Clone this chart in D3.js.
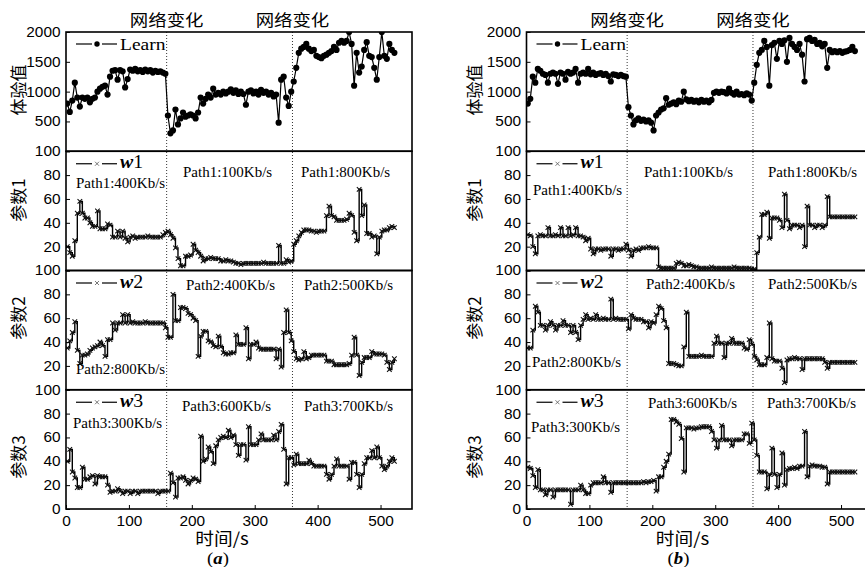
<!DOCTYPE html>
<html>
<head>
<meta charset="utf-8">
<script src="https://cdn.jsdelivr.net/npm/d3@7"></script>
<style>
  body { margin: 0; background: #fff; }
  svg { display: block; }
</style>
</head>
<body>
<div id="chart"></div>
<script>
// ---- data (one sample every 4 s starting at t = 2 s) ----
var tStart = 2, tStep = 4;

var learnA = [800,660,850,1150,900,750,900,880,900,820,
  880,900,1000,1050,1080,1100,950,1250,1350,1360,
  1200,1360,1340,1070,1210,1370,1350,1380,1340,1360,
  1330,1370,1340,1360,1320,1350,1330,1340,1320,1300,
  600,300,350,700,450,550,650,580,600,620,
  600,550,650,900,800,880,950,900,1050,950,
  980,950,1000,970,1000,1040,980,1020,960,1000,
  960,780,1000,1020,970,1000,950,1030,980,1000,
  950,980,920,950,480,1200,1250,900,760,1000,
  1170,1400,1650,1720,1750,1800,1720,1680,1700,1600,
  1580,1560,1600,1620,1650,1680,1750,1700,1820,1850,
  1820,1850,2000,1800,1100,1650,1320,1420,1700,1830,
  1600,1580,1400,1200,1580,2000,1600,1550,1800,1700,
  1650];

var w1A = [20,15,12,25,48,58,48,44,44,40,
  37,37,50,35,35,35,39,38,28,28,
  33,28,33,27,24,28,29,27,28,28,
  28,28,29,28,28,28,28,28,30,32,
  33,30,27,19,10,4,4,12,12,13,
  22,17,15,12,8,10,10,11,10,10,
  10,8,8,9,8,8,7,6,6,5,
  6,6,6,6,6,6,6,6,7,6,
  6,6,6,6,21,6,6,9,7,8,
  22,25,29,32,34,34,34,33,33,32,
  33,33,33,46,54,46,45,42,42,42,
  42,43,48,46,32,25,68,46,55,31,
  31,28,29,14,28,33,34,34,36,37,
  36];

var w2A = [35,41,48,57,33,22,29,29,30,33,
  35,36,37,40,37,28,42,42,56,50,
  56,56,63,56,63,56,57,56,56,56,
  56,57,56,56,56,56,56,56,56,52,
  44,44,80,58,58,69,69,68,64,63,
  60,58,28,45,49,49,41,40,37,36,
  45,36,31,30,30,31,31,46,38,38,
  38,52,26,38,38,40,35,34,34,34,
  34,34,34,26,34,19,48,67,48,41,
  32,26,25,26,32,26,27,29,29,29,
  29,29,29,24,24,24,21,21,21,21,
  21,21,22,29,44,29,12,23,27,27,
  27,32,30,30,30,30,29,23,17,23,
  26];

var w3A = [40,50,31,26,18,18,35,25,25,27,
  28,21,28,27,27,27,20,14,15,15,
  17,15,13,15,15,13,15,15,13,15,
  15,15,15,15,15,15,13,15,15,15,
  15,30,22,10,26,26,27,24,21,24,
  26,25,23,61,40,42,52,48,38,53,
  58,60,61,60,66,60,62,54,45,54,
  54,41,69,54,54,54,58,63,58,58,
  58,58,62,58,65,71,50,21,43,43,
  37,46,38,38,38,38,41,38,36,36,
  36,36,36,29,25,29,36,42,36,36,
  36,36,25,39,39,29,18,29,38,43,
  43,49,43,52,43,36,33,36,40,43,
  40];

var learnB = [800,880,1250,1150,1380,1350,1300,1280,1150,1300,
  1320,1300,1130,1320,1300,1200,1330,1300,1320,1380,
  1150,1300,1320,1300,1380,1290,1320,1280,1300,1310,
  1280,1300,1260,1170,1290,1280,1260,1280,1260,1250,
  740,600,450,520,550,510,530,500,520,480,
  350,600,650,700,720,890,780,800,820,790,
  850,830,1000,870,840,860,830,850,820,860,
  830,850,820,860,980,1000,980,1000,990,970,
  1050,980,950,1000,950,960,940,970,950,850,
  1150,1450,1650,1700,1850,1750,1100,1780,1820,1550,
  1850,1800,1860,1500,1900,1800,1750,1700,1800,1620,
  1170,1880,1900,1850,1870,1800,1820,1760,1800,1400,
  1700,1660,1680,1660,1680,1650,1670,1680,1700,1750,
  1680];

var w1B = [30,29,20,14,29,30,29,29,36,29,
  29,30,29,36,29,29,36,29,30,36,
  29,29,28,25,27,18,14,18,18,17,
  18,18,18,12,18,18,17,18,18,22,
  17,12,17,18,17,19,19,19,20,19,
  19,19,3,2,2,2,2,2,2,6,
  7,6,4,4,5,4,3,3,2,2,
  2,2,2,3,2,2,2,2,2,2,
  2,2,3,2,2,2,2,2,2,1,
  1,15,28,47,47,49,27,44,44,44,
  42,36,64,42,35,38,38,38,36,38,
  20,54,38,38,36,38,38,36,38,62,
  45,45,45,45,45,45,45,45,45,45,
  45];

var w2B = [35,35,50,70,65,54,54,50,54,57,
  54,50,54,54,58,54,54,48,54,48,
  42,54,59,63,59,60,59,63,59,59,
  60,59,59,76,59,60,59,59,59,59,
  51,63,60,59,59,59,57,57,52,57,
  56,63,70,68,58,52,22,22,22,21,
  20,20,36,65,28,28,28,28,28,29,
  28,28,28,28,39,45,39,39,27,39,
  39,43,39,39,39,39,35,34,42,38,
  28,25,21,21,21,27,56,26,24,24,
  24,18,6,25,26,26,27,26,26,17,
  26,26,26,26,26,26,26,26,23,18,
  23,23,23,23,23,23,23,23,23,23,
  23];

var w3B = [35,34,28,18,33,16,16,12,16,16,
  10,16,16,16,16,16,16,4,16,16,
  16,20,16,13,13,20,22,22,22,22,
  27,22,22,14,22,22,22,22,22,22,
  22,22,22,22,22,22,23,22,23,23,
  24,15,27,27,35,40,46,75,75,73,
  71,59,31,68,68,68,67,68,68,69,
  69,69,69,65,58,51,58,70,58,58,
  58,53,58,58,58,58,63,63,55,72,
  58,45,31,31,31,17,29,51,29,18,
  29,47,20,33,34,34,35,34,36,36,
  65,27,36,37,36,36,36,35,35,21,
  31,31,31,31,31,31,31,31,31,31,
  31];

var eventTimes = [160, 360];
var eventLabel = "网络变化";
var yTitles = ["体验值", "参数1", "参数2", "参数3"];
var learnTicks = [0, 500, 1000, 1500, 2000];
var paramTicks = [0, 20, 40, 60, 80, 100];
var timeTicks = [0, 100, 200, 300, 400, 500];
var xTitle = "时间/s";
var pathLabels = [
  ["Path1:400Kb/s", "Path1:100Kb/s", "Path1:800Kb/s"],
  ["Path2:800Kb/s", "Path2:400Kb/s", "Path2:500Kb/s"],
  ["Path3:300Kb/s", "Path3:600Kb/s", "Path3:700Kb/s"]
];

// ---- layout ----
var width = 865, height = 567;
var plotTop = 32, rowH = 119.25, plotW = 346;
var titleYs = [90, 200, 318, 457];
var SERIF = "'Liberation Serif','Times New Roman',serif";
var SANS = "'Liberation Sans',Arial,sans-serif";
var CJK = "'Noto Sans CJK SC','Noto Sans CJK JP',sans-serif";

var panels = [
  { left: 66, titleX: 17, tag: "a", series: [learnA, w1A, w2A, w3A],
    pathPos: [[[10, 37], [117, 25.5], [235, 25.5]],
              [[10, 103.5], [120, 19.5], [238, 19.5]],
              [[7, 38], [116, 21], [238, 21]]] },
  { left: 526.5, titleX: 473, tag: "b", series: [learnB, w1B, w2B, w3B],
    pathPos: [[[6.5, 44], [117.5, 26], [241.5, 26]],
              [[5.5, 96.5], [119.5, 18.5], [241.5, 18.5]],
              [[4.5, 42], [121.5, 18], [240.5, 18]]] }
];

var svg = d3.select("#chart").append("svg")
  .attr("width", width).attr("height", height)
  .attr("viewBox", "0 0 " + width + " " + height);

function label(g, x, y, str, font, size, sx, anchor) {
  return g.append("text")
    .attr("transform", "translate(" + x + "," + y + ") scale(" + sx + ",1)")
    .attr("text-anchor", anchor || "start")
    .style("font-family", font)
    .style("font-size", size + "px")
    .attr("fill", "#000")
    .text(str);
}

function crossPath(s) {
  return "M" + (-s) + "," + (-s) + "L" + s + "," + s + "M" + (-s) + "," + s + "L" + s + "," + (-s);
}

panels.forEach(function(p, pi) {
  var g = svg.append("g");
  var x = d3.scaleLinear().domain([0, 550]).range([p.left, p.left + plotW]);

  for (var r = 0; r < 4; r++) {
    var rowTop = plotTop + r * rowH;
    var y = d3.scaleLinear()
      .domain(r == 0 ? [0, 2000] : [0, 100])
      .range([rowTop + rowH, rowTop]);
    var vals = p.series[r];
    var pts = vals.map(function(v, i) { return [tStart + i * tStep, v]; });

    var clipId = "clip" + pi + "_" + r;
    g.append("clipPath").attr("id", clipId).append("rect")
      .attr("x", p.left).attr("y", rowTop).attr("width", plotW).attr("height", rowH);

    var plot = g.append("g").attr("clip-path", "url(#" + clipId + ")");
    var line = d3.line()
      .x(function(d) { return x(d[0]); })
      .y(function(d) { return y(d[1]); })
      .curve(r == 0 ? d3.curveLinear : d3.curveStepAfter);

    plot.append("path").datum(pts)
      .attr("d", line)
      .attr("fill", "none")
      .attr("stroke", "#000")
      .attr("stroke-width", r == 0 ? 1.2 : 1.4);

    if (r == 0) {
      plot.selectAll("circle").data(pts).enter().append("circle")
        .attr("cx", function(d) { return x(d[0]); })
        .attr("cy", function(d) { return y(d[1]); })
        .attr("r", 3.1)
        .attr("fill", "#000");
    } else {
      plot.selectAll("path.mk").data(pts).enter().append("path")
        .attr("class", "mk")
        .attr("transform", function(d) { return "translate(" + x(d[0]) + "," + y(d[1]) + ")"; })
        .attr("d", crossPath(2.3))
        .attr("stroke", "#111")
        .attr("stroke-width", 1.1);
    }

    // frame
    g.append("rect")
      .attr("x", p.left).attr("y", rowTop)
      .attr("width", plotW).attr("height", rowH)
      .attr("fill", "none").attr("stroke", "#000").attr("stroke-width", 1.6);

    // left axis; the 0 of the upper rows sits under the 100 of the row below
    var isBottom = r == 3;
    var ay = g.append("g")
      .attr("transform", "translate(" + p.left + ",0)")
      .call(d3.axisLeft(y)
        .tickValues(r == 0 ? learnTicks : paramTicks)
        .tickFormat(function(d) { return (d == 0 && !isBottom) ? "" : String(d); })
        .tickSizeInner(-4).tickSizeOuter(0).tickPadding(5));
    ay.select(".domain").remove();
    ay.selectAll("text")
      .attr("transform", "scale(1.1,1)")
      .style("font-family", SANS).style("font-size", "14px").attr("fill", "#000");

    // y title
    g.append("text")
      .attr("transform", "translate(" + p.titleX + "," + titleYs[r] + ") rotate(-90)")
      .attr("text-anchor", "middle")
      .attr("dominant-baseline", "central")
      .style("font-family", CJK)
      .style("font-size", "17px")
      .text(yTitles[r]);

    // legend
    var ly = rowTop + (r == 0 ? 12 : 12.5);
    [[10, 26], [36, 51]].forEach(function(s) {
      g.append("line")
        .attr("x1", p.left + s[0]).attr("x2", p.left + s[1])
        .attr("y1", ly).attr("y2", ly)
        .attr("stroke", "#000").attr("stroke-width", 1.2);
    });
    if (r == 0) {
      g.append("circle").attr("cx", p.left + 31).attr("cy", ly).attr("r", 2.7).attr("fill", "#000");
      label(g, p.left + 54, rowTop + 18, "Learn", SERIF, 17, 1.15);
    } else {
      g.append("path")
        .attr("transform", "translate(" + (p.left + 31) + "," + ly + ")")
        .attr("d", crossPath(2)).attr("stroke", "#555").attr("stroke-width", 0.8);
      var lt = label(g, p.left + 54, rowTop + 17, "", SERIF, 18, 1.1);
      lt.append("tspan").style("font-weight", "bold").style("font-style", "italic").text("w");
      lt.append("tspan").text(String(r));

      pathLabels[r - 1].forEach(function(s, k) {
        var pos = p.pathPos[r - 1][k];
        label(g, p.left + pos[0], rowTop + pos[1], s, SERIF, 15, 1.0);
      });
    }
  }

  // x axis
  var ax = g.append("g")
    .attr("transform", "translate(0," + (plotTop + 4 * rowH) + ")")
    .call(d3.axisBottom(x).tickValues(timeTicks)
      .tickSizeInner(-4).tickSizeOuter(0).tickPadding(7));
  ax.select(".domain").remove();
  ax.selectAll("text")
    .attr("transform", "scale(1.1,1)")
    .style("font-family", SANS).style("font-size", "14px").attr("fill", "#000");

  // network change markers
  eventTimes.forEach(function(t) {
    g.append("line")
      .attr("x1", x(t)).attr("x2", x(t))
      .attr("y1", plotTop).attr("y2", plotTop + 4 * rowH)
      .attr("stroke", "#000").attr("stroke-width", 0.8)
      .attr("stroke-dasharray", "1,2");
    label(g, x(t), 26, eventLabel, CJK, 16, 1.15, "middle");
  });

  label(g, p.left + 156, 545, xTitle, CJK, 17, 1.1, "middle");
  var tagText = label(g, p.left + 152, 564, "", SERIF, 17, 1.1, "middle");
  tagText.append("tspan").text("(");
  tagText.append("tspan").style("font-weight", "bold").style("font-style", "italic").text(p.tag);
  tagText.append("tspan").text(")");
});
</script>
</body>
</html>
